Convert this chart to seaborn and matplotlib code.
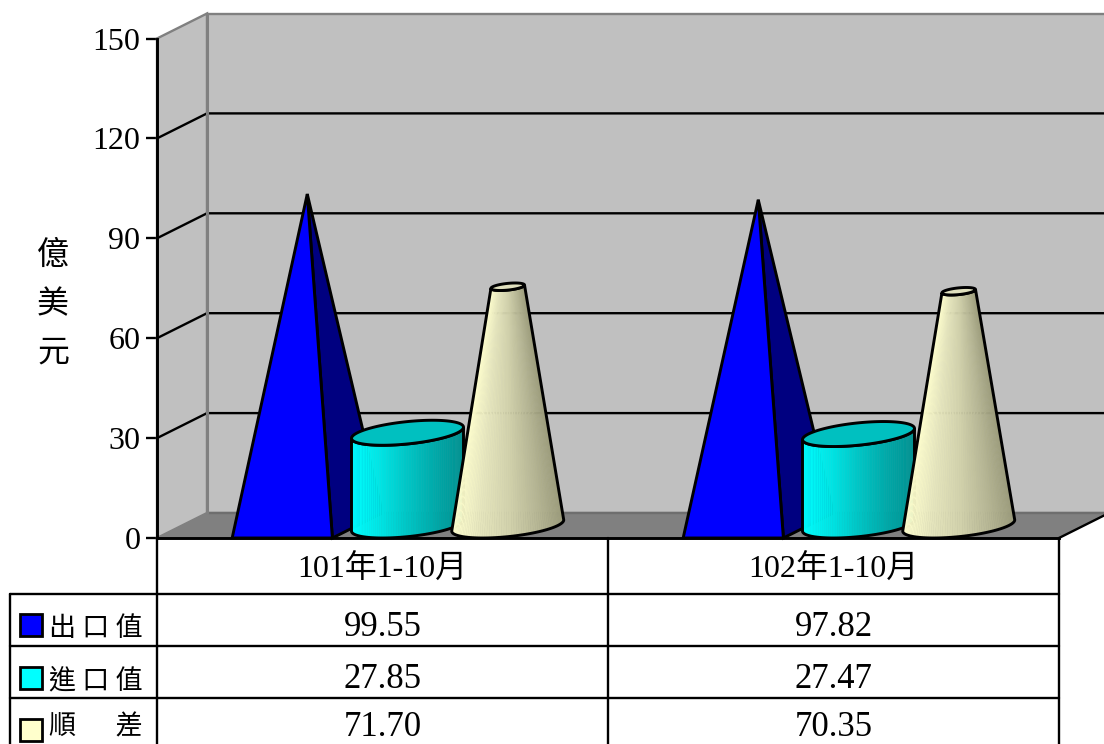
import numpy as np
import pandas as pd
import matplotlib
matplotlib.use("Agg")
import matplotlib.pyplot as plt
from matplotlib.colors import LinearSegmentedColormap
from matplotlib.patches import Polygon, Rectangle
from matplotlib.transforms import Affine2D
import seaborn as sns

# Data
periods = ["101年1-10月", "102年1-10月"]
series_names = ["出口值", "進口值", "順差"]
export_values = [99.55, 97.82]
import_values = [27.85, 27.47]
surplus_values = [71.70, 70.35]
y_ticks = [0, 30, 60, 90, 120, 150]

legend_labels = ["出 口 值", "進 口 值", "順　  差"]
series_colors = ["#0000FF", "#00FFFF", "#FFFFCC"]

# Layout of the figure, pixels from the top left
W, H = 1104, 744
AX_LEFT, AX_RIGHT, AX_TOP, AX_BOTTOM = 157, 1059, 38.5, 538
TABLE_ROWS = [594, 646, 698, 750]
LW = 1.7
SHAPE_LW = 2.1

sns.set_theme(style="white")
plt.rcParams["font.family"] = ["Liberation Serif", "Noto Sans CJK TC", "DejaVu Sans"]
cjk = ["Noto Sans CJK TC", "Liberation Serif"]

df = pd.DataFrame({
    "period": periods * 3,
    "series": [s for s in series_names for _ in periods],
    "value": export_values + import_values + surplus_values,
})

fig = plt.figure(figsize=(W / 100, H / 100), dpi=100, facecolor="white")
ax = fig.add_axes([AX_LEFT / W, 1 - AX_BOTTOM / H, (AX_RIGHT - AX_LEFT) / W, (AX_BOTTOM - AX_TOP) / H])
ax.patch.set_visible(False)

# Bars give the positions, the 3D shapes are built on top of them
sns.barplot(data=df, x="period", y="value", hue="series", hue_order=series_names,
            order=periods, palette=series_colors, width=2 / 3, gap=0, errorbar=None,
            legend=False, ax=ax)
ax.set_xlim(-0.5, 1.5)
ax.set_ylim(0, 150)
ax.set_xticks([])
ax.set_xlabel("")
ax.set_ylabel("")
ax.set_yticks(y_ticks)
ax.tick_params(axis="y", left=True, length=8, width=LW, color="black", pad=4, labelsize=23, labelcolor="black")
for side in ["top", "right"]:
    ax.spines[side].set_visible(False)
for side in ["left", "bottom"]:
    ax.spines[side].set_color("black")
    ax.spines[side].set_linewidth(LW + 0.4)

# Depth of the 3D box in data units
dx = 50 / (AX_RIGHT - AX_LEFT) * 2
dy = 25 / (AX_BOTTOM - AX_TOP) * 150
x0, x1 = ax.get_xlim()
top = y_ticks[-1]
GREY = "#808080"

# Walls and floor
ax.add_patch(Polygon([(x0 + dx, dy), (x1 + dx, dy), (x1 + dx, top + dy), (x0 + dx, top + dy)],
                     fc="#C0C0C0", ec=GREY, lw=LW, clip_on=False, zorder=1))
ax.add_patch(Polygon([(x0, 0), (x0 + dx, dy), (x0 + dx, top + dy), (x0, top)],
                     fc="#C0C0C0", ec=GREY, lw=LW, clip_on=False, zorder=1))
ax.add_patch(Polygon([(x0, 0), (x1, 0), (x1 + dx, dy), (x0 + dx, dy)],
                     fc=GREY, ec="none", clip_on=False, zorder=1))
ax.plot([x0 + dx, x1 + dx], [dy, dy], color="#6E6E6E", lw=LW, clip_on=False, zorder=1)
ax.plot([x1, x1 + dx], [0, dy], color="black", lw=LW, clip_on=False, zorder=1)

# Gridlines
for t in y_ticks[1:-1]:
    ax.plot([x0, x0 + dx, x1 + dx], [t, t + dy, t + dy], color="black", lw=LW, clip_on=False, zorder=1.2)
ax.plot([x0 + dx, x0 + dx], [dy, top + dy], color=GREY, lw=LW + 0.5, clip_on=False, zorder=1.3)

cyan_map = LinearSegmentedColormap.from_list("cy", ["#00FFFF", "#00E4E4", "#00C4C4", "#00A8A8", "#009090"])
cream_map = LinearSegmentedColormap.from_list("cr", ["#FFFFCE", "#E4E4BC", "#D2D2AC", "#B8B896", "#9C9C7C"])


def ellipse(cx, cy, w, r, t):
    # circle on the floor plane, seen through the depth offset
    return np.column_stack([cx + r * (w / 2 * np.cos(t) + dx / 2 * np.sin(t)),
                            cy + r * dy / 2 * np.sin(t)])


def pyramid(x, w, h, color):
    apex = (x + w / 2 + dx / 2, h + dy / 2)
    ax.add_patch(Polygon([(x + w, 0), (x + w + dx, dy), apex], fc="#000080", ec="black", lw=SHAPE_LW,
                         clip_on=False, zorder=2, joinstyle="miter"))
    ax.add_patch(Polygon([(x, 0), (x + w, 0), apex], fc=color, ec="black", lw=SHAPE_LW,
                         clip_on=False, zorder=2, joinstyle="miter"))


def round_body(x, w, h, top_r, cmap, top_color):
    cx = x + w / 2 + dx / 2
    cy = dy / 2
    t_right = np.arctan2(dx, w)
    t = np.linspace(t_right - np.pi, t_right, 70)
    low = ellipse(cx, cy, w, 1, t)
    up = ellipse(cx, cy + h, w, top_r, t)
    # gradient from narrow strips, left to right
    for i in range(len(t) - 1):
        frac = (low[i, 0] - low[0, 0]) / (low[-1, 0] - low[0, 0])
        ax.add_patch(Polygon([low[i], low[i + 1], up[i + 1], up[i]], fc=cmap(frac), ec=cmap(frac),
                             lw=0.4, clip_on=False, zorder=2))
    outline = np.vstack([low, up[::-1]])
    ax.add_patch(Polygon(outline, fill=False, ec="black", lw=SHAPE_LW, clip_on=False, zorder=2))
    full = np.linspace(0, 2 * np.pi, 120)
    ax.add_patch(Polygon(ellipse(cx, cy + h, w, top_r, full), fc=top_color, ec="black", lw=SHAPE_LW,
                         clip_on=False, zorder=2))


for bar in ax.containers[0]:
    pyramid(bar.get_x(), bar.get_width(), bar.get_height(), series_colors[0])
    bar.set_visible(False)
for bar in ax.containers[1]:
    round_body(bar.get_x(), bar.get_width(), bar.get_height(), 1, cyan_map, "#00C0C0")
    bar.set_visible(False)
for bar in ax.containers[2]:
    round_body(bar.get_x(), bar.get_width(), bar.get_height(), 0.3, cream_map, "#E0E0BE")
    bar.set_visible(False)

# Data table below the plot, placed in pixels
px = Affine2D().scale(1, -1).translate(0, H)
for col in [AX_LEFT, 608, 1059]:
    ax.plot([col, col], [AX_BOTTOM, H], color="black", lw=LW, transform=px, clip_on=False)
ax.plot([10, 10], [TABLE_ROWS[0], H], color="black", lw=LW, transform=px, clip_on=False)
for row in TABLE_ROWS[:3]:
    ax.plot([10, 1059], [row, row], color="black", lw=LW, transform=px, clip_on=False)

col_centers = [382.5, 833.5]
for c, period in zip(col_centers, periods):
    ax.text(c, 570, period, transform=px, ha="center", va="center", fontsize=23, color="black", clip_on=False)

rows = [export_values, import_values, surplus_values]
row_centers = [624, 677, 729]
text_centers = [627, 680, 728]
label_centers = [628, 681, 727]
for values, label, color, y, ty, ly in zip(rows, legend_labels, series_colors, row_centers, text_centers, label_centers):
    for c, v in zip(col_centers, values):
        ax.text(c, ty, f"{v:.2f}", transform=px, ha="center", va="center", fontsize=25, color="black", clip_on=False)
    ax.add_patch(Rectangle((19.5, y - 10.5), 22, 22, transform=px, fc=color, ec="black", lw=LW + 0.3, clip_on=False))
    ax.text(143, ly, label, transform=px, ha="right", va="center", fontsize=19.5, family=cjk,
            color="black", clip_on=False)

# Vertical axis title
fig.text(53 / W, 1 - 304 / H, "億\n美\n元", ha="center", va="center", fontsize=23, family=cjk,
         color="black", linespacing=1.68)

fig.savefig("out.png", dpi=100)
